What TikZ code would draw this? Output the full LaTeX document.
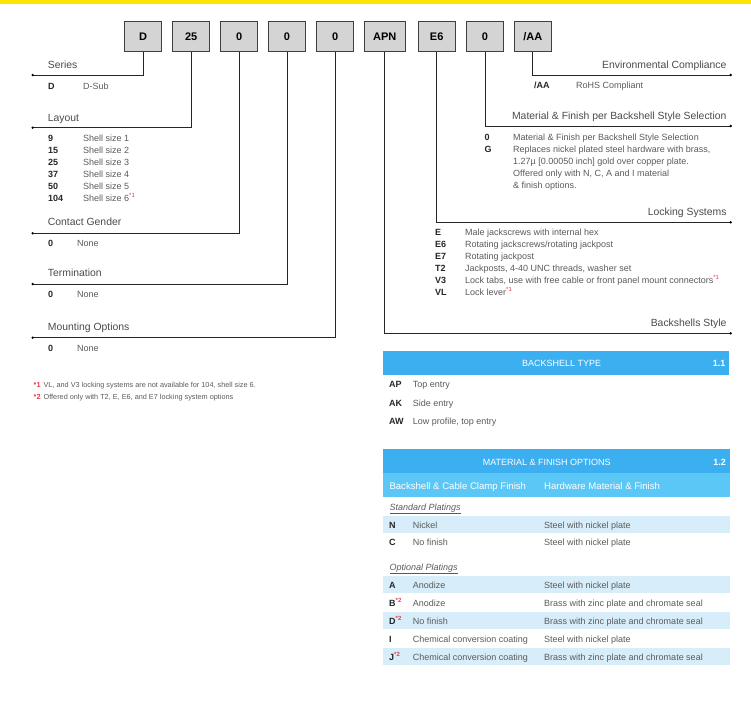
\documentclass[tikz,border=0pt]{standalone}
\usepackage{fontspec}
\setmainfont{Liberation Sans}
\usepackage{xcolor}
\usepackage{tikz}
\usetikzlibrary{
  calc,
  positioning
}
\definecolor{topyellow}{HTML}{FFE500}
\definecolor{boxgray}{HTML}{D4D4D4}
\definecolor{hblue}{HTML}{3BAFF0}
\definecolor{sblue}{HTML}{5BC7F6}
\definecolor{lblue}{HTML}{D7EEFA}
\definecolor{titlegray}{HTML}{4A4A4A}
\definecolor{descgray}{HTML}{5A5A5A}
\definecolor{fnred}{HTML}{E8374B}
\newcommand{\fnmark}[1]{\textsuperscript{\textcolor{fnred}{*#1}}}
\tikzset{
  partbox/.style={
    draw=black!75,
    fill=boxgray,
    line width=0.7pt,
    minimum width=37pt,
    minimum height=30pt,
    inner sep=0pt,
    font=\fontsize{11}{13}\selectfont\bfseries},
  lead/.style={draw=black!85, line width=0.9pt},
  title/.style={
    inner sep=0pt, text height=0.72em, text depth=0pt,
    text=titlegray,
    font=\fontsize{10.4}{12}\selectfont},
  key/.style={
    anchor=west, inner sep=0pt, text height=0.72em, text depth=0pt,
    text=black!85,
    font=\fontsize{9}{11}\selectfont\bfseries},
  desc/.style={
    anchor=west, inner sep=0pt, text height=0.72em, text depth=0pt,
    text=descgray,
    font=\fontsize{9}{11}\selectfont},
  head/.style={
    inner sep=0pt, text height=0.72em, text depth=0pt,
    text=white,
    font=\fontsize{9}{11}\selectfont},
  note/.style={
    anchor=west, inner sep=0pt, text height=0.72em, text depth=0pt,
    text=descgray,
    font=\fontsize{7.3}{9}\selectfont}
  }

\begin{document}
\begin{tikzpicture}[x=1pt,y=-1pt]
	\useasboundingbox (0,0) rectangle (751,715);
	\fill[fill=topyellow] (0,0) rectangle (751,4);

	% part number
	\node[partbox] (bser) at (143,36.7) {D};
	\node[partbox] (blay) at (191.2,36.7) {25};
	\node[partbox] (bgen) at (239.2,36.7) {0};
	\node[partbox] (bter) at (287,36.7) {0};
	\node[partbox] (bmnt) at (335.3,36.7) {0};
	\node[partbox, minimum width=41pt] (bsty) at (384.7,36.7) {APN};
	\node[partbox] (blck) at (436.7,36.7) {E6};
	\node[partbox] (bmat) at (485,36.7) {0};
	\node[partbox] (benv) at (532.9,36.7) {/AA};

	% leader ends
	\coordinate (eser) at (32.7,75);
	\coordinate (elay) at (32.7,127.7);
	\coordinate (egen) at (32.7,233.3);
	\coordinate (eter) at (32.7,284);
	\coordinate (emnt) at (32.7,337.7);
	\coordinate (eenv) at (730.7,75);
	\coordinate (emat) at (730.7,126);
	\coordinate (elck) at (730.7,222.3);
	\coordinate (esty) at (730.7,333.3);

	\draw[lead] (bser.south) |- (eser);
	\draw[lead] (blay.south) |- (elay);
	\draw[lead] (bgen.south) |- (egen);
	\draw[lead] (bter.south) |- (eter);
	\draw[lead] (bmnt.south) |- (emnt);
	\draw[lead] (benv.south) |- (eenv);
	\draw[lead] (bmat.south) |- (emat);
	\draw[lead] (blck.south) |- (elck);
	\draw[lead] (bsty.south) |- (esty);
	\foreach \e in {eser,elay,egen,eter,emnt,eenv,emat,elck,esty}
		\fill (\e) circle (1.3pt);

	% left side
	\node[title, anchor=west] (tser) at (47.7,65.3) {Series};
	\node[key] (kser) at (48,85.7) {D};
	\node[desc] (dser) at (83,85.7) {D-Sub};

	\node[title, anchor=west] (tlay) at (47.7,117.7) {Layout};
	\node[key] (k9) at (48,138) {9};
	\node[desc] (d9) at (83,138) {Shell size 1};
	\node[key] (k15) at (48,149.9) {15};
	\node[desc] (d15) at (83,149.9) {Shell size 2};
	\node[key] (k25) at (48,161.8) {25};
	\node[desc] (d25) at (83,161.8) {Shell size 3};
	\node[key] (k37) at (48,173.8) {37};
	\node[desc] (d37) at (83,173.8) {Shell size 4};
	\node[key] (k50) at (48,185.7) {50};
	\node[desc] (d50) at (83,185.7) {Shell size 5};
	\node[key] (k104) at (48,197.7) {104};
	\node[desc] (d104) at (83,197.7) {Shell size 6\fnmark{1}};

	\node[title, anchor=west] (tgen) at (47.7,222.3) {Contact Gender};
	\node[key] (kgen) at (48,242.7) {0};
	\node[desc] (dgen) at (77,242.7) {None};

	\node[title, anchor=west] (tter) at (47.7,273.3) {Termination};
	\node[key] (kter) at (48,293.7) {0};
	\node[desc] (dter) at (77,293.7) {None};

	\node[title, anchor=west] (tmnt) at (47.7,327.3) {Mounting Options};
	\node[key] (kmnt) at (48,347.7) {0};
	\node[desc] (dmnt) at (77,347.7) {None};

	% footnotes
	\node[note] (fn1) at (33.5,384) {\textcolor{fnred}{\textbf{*1}}\hspace{3pt}VL, and V3 locking systems are not available for 104, shell size 6.};
	\node[note] (fn2) at (33.5,395.7) {\textcolor{fnred}{\textbf{*2}}\hspace{3pt}Offered only with T2, E, E6, and E7 locking system options};

	% right side
	\node[title, anchor=east] (tenv) at (726.7,65) {Environmental Compliance};
	\node[key] (kenv) at (534,85.3) {/AA};
	\node[desc] (denv) at (576,85.3) {RoHS Compliant};

	\node[title, anchor=east] (tmat) at (726.7,116) {Material \& Finish per Backshell Style Selection};
	\node[key] (kmat) at (484.3,137.3) {0};
	\node[desc] (dmat) at (513,137.3) {Material \& Finish per Backshell Style Selection};
	\node[key] (kg) at (484.3,149.3) {G};
	\node[desc] (dg1) at (513,149.3) {Replaces nickel plated steel hardware with brass,};
	\node[desc] (dg2) at (513,161.3) {1.27µ [0.00050 inch] gold over copper plate.};
	\node[desc] (dg3) at (513,173.2) {Offered only with N, C, A and I material};
	\node[desc] (dg4) at (513,185) {\& finish options.};

	\node[title, anchor=east] (tlck) at (726.7,212.3) {Locking Systems};
	\node[key] (ke) at (435,232.3) {E};
	\node[desc] (de) at (465,232.3) {Male jackscrews with internal hex};
	\node[key] (ke6) at (435,244.2) {E6};
	\node[desc] (de6) at (465,244.2) {Rotating jackscrews/rotating jackpost};
	\node[key] (ke7) at (435,256.1) {E7};
	\node[desc] (de7) at (465,256.1) {Rotating jackpost};
	\node[key] (kt2) at (435,268) {T2};
	\node[desc] (dt2) at (465,268) {Jackposts, 4-40 UNC threads, washer set};
	\node[key] (kv3) at (435,280) {V3};
	\node[desc] (dv3) at (465,280) {Lock tabs, use with free cable or front panel mount connectors\fnmark{1}};
	\node[key] (kvl) at (435,292) {VL};
	\node[desc] (dvl) at (465,292) {Lock lever\fnmark{1}};

	\node[title, anchor=east] (tsty) at (726.7,323.3) {Backshells Style};

	% backshell type
	\fill[hblue] (383.3,351) rectangle (729.3,375);
	\node[head] (hbt) at (561.7,363) {BACKSHELL TYPE};
	\node[head, anchor=east, font=\fontsize{9}{11}\selectfont\bfseries] (nbt) at (725.5,363) {1.1};
	\node[key] (kap) at (389,384.3) {AP};
	\node[desc] (dap) at (412.7,384.3) {Top entry};
	\node[key] (kak) at (389,402.7) {AK};
	\node[desc] (dak) at (412.7,402.7) {Side entry};
	\node[key] (kaw) at (389,420.7) {AW};
	\node[desc] (daw) at (412.7,420.7) {Low profile, top entry};

	% material and finish options
	\fill[hblue] (383.3,449.3) rectangle (730,472.7);
	\fill[sblue] (383.3,472.7) rectangle (730,497.3);
	\node[head] (hmf) at (546.7,461.7) {MATERIAL \& FINISH OPTIONS};
	\node[head, anchor=east, font=\fontsize{9}{11}\selectfont\bfseries] (nmf) at (726,461.7) {1.2};
	\node[head, anchor=west, font=\fontsize{9.6}{11}\selectfont] (hcl) at (389.3,485.7) {Backshell \& Cable Clamp Finish};
	\node[head, anchor=west, font=\fontsize{9.6}{11}\selectfont] (hhw) at (544,485.7) {Hardware Material \& Finish};

	\node[desc] (std) at (389.3,506.7) {\underline{\textit{Standard Platings}}};
	\fill[lblue] (383.3,516) rectangle (730,533.3);
	\node[key] (kn) at (389,524.7) {N};
	\node[desc] (dn) at (412.7,524.7) {Nickel};
	\node[desc] (hn) at (544,524.7) {Steel with nickel plate};
	\node[key] (kc) at (389,542.3) {C};
	\node[desc] (dc) at (412.7,542.3) {No finish};
	\node[desc] (hc) at (544,542.3) {Steel with nickel plate};

	\node[desc] (opt) at (389.3,566.7) {\underline{\textit{Optional Platings}}};
	\fill[lblue] (383.3,575.7) rectangle (730,593.3);
	\fill[lblue] (383.3,611.7) rectangle (730,629.3);
	\fill[lblue] (383.3,647.7) rectangle (730,665.3);
	\node[key] (ka) at (389,584.7) {A};
	\node[desc] (da) at (412.7,584.7) {Anodize};
	\node[desc] (ha) at (544,584.7) {Steel with nickel plate};
	\node[key] (kb) at (389,602.7) {B\fnmark{2}};
	\node[desc] (db) at (412.7,602.7) {Anodize};
	\node[desc] (hb) at (544,602.7) {Brass with zinc plate and chromate seal};
	\node[key] (kd) at (389,620.7) {D\fnmark{2}};
	\node[desc] (dd) at (412.7,620.7) {No finish};
	\node[desc] (hd) at (544,620.7) {Brass with zinc plate and chromate seal};
	\node[key] (ki) at (389,639) {I};
	\node[desc] (di) at (412.7,639) {Chemical conversion coating};
	\node[desc] (hi) at (544,639) {Steel with nickel plate};
	\node[key] (kj) at (389,657) {J\fnmark{2}};
	\node[desc] (dj) at (412.7,657) {Chemical conversion coating};
	\node[desc] (hj) at (544,657) {Brass with zinc plate and chromate seal};
\end{tikzpicture}
\end{document}
